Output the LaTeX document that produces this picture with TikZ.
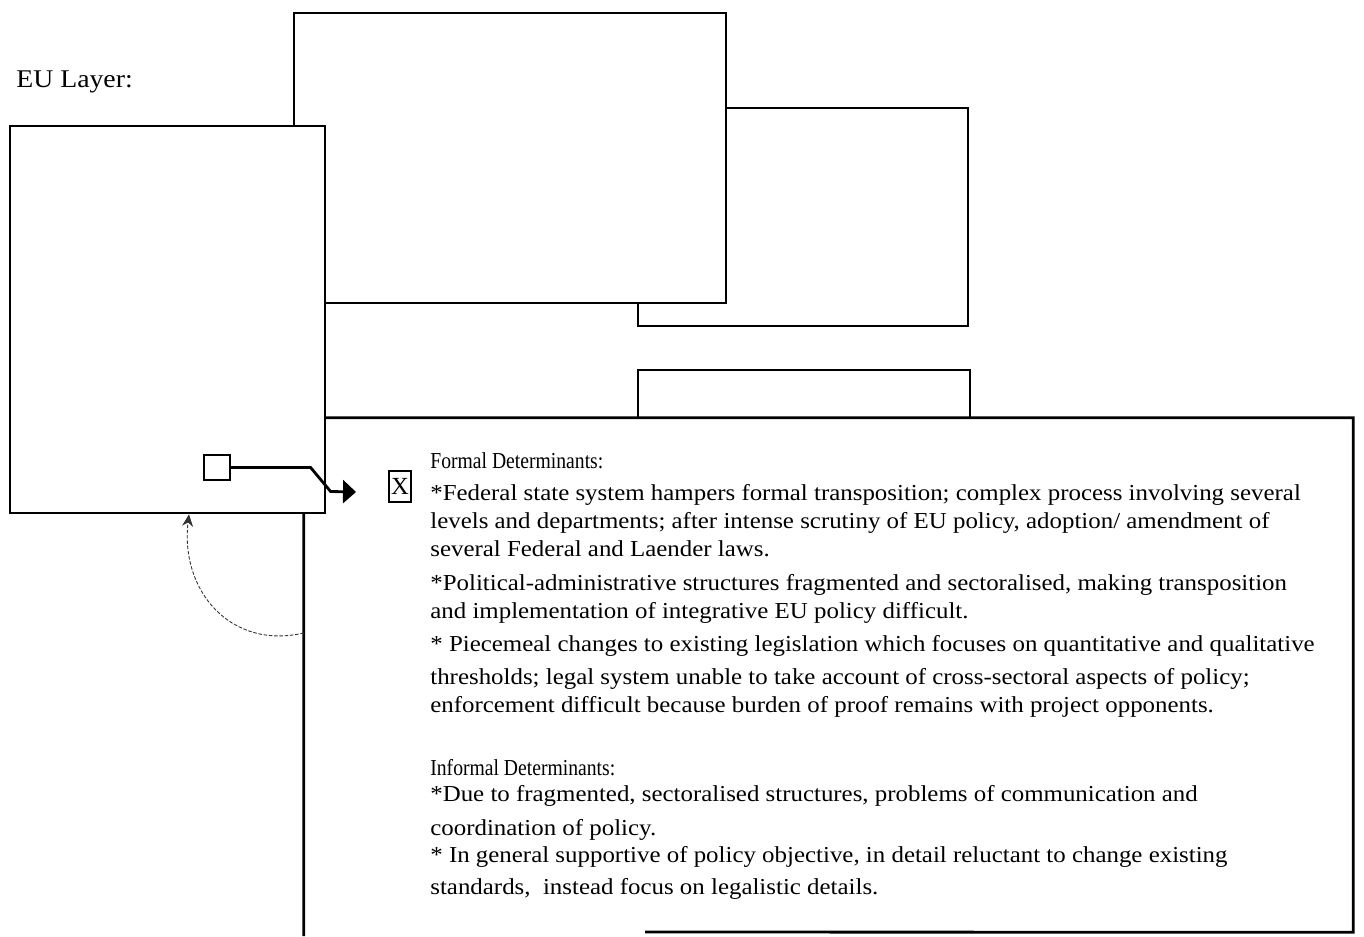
\documentclass[tikz,border=0pt]{standalone}
\usepackage{fontspec}
\setmainfont{Liberation Serif}
\newfontfamily\widefont{Liberation Serif}[FakeStretch=1.09]
\newfontfamily\narrowfont{Liberation Serif}[FakeStretch=0.86]
\usetikzlibrary{arrows.meta}

\tikzset{
  layerbox/.style={draw=black, fill=white, line width=1.6pt, shape=rectangle, inner sep=0pt},
  smallbox/.style={draw=black, fill=white, line width=0.7pt, shape=rectangle, inner sep=0pt},
  detline/.style={anchor=base west, inner sep=0pt, font=\widefont\fontsize{13}{15}\selectfont},
  dethead/.style={anchor=base west, inner sep=0pt, font=\narrowfont\fontsize{13}{15}\selectfont},
  linkarrow/.style={line width=1.6pt, -{Triangle[length=0.26cm, width=0.46cm]}},
  backarrow/.style={line width=0.5pt, dash pattern=on 2pt off 1pt, black!80, -{Stealth[length=0.24cm, width=0.22cm]}},
}

\begin{document}
\begin{tikzpicture}[x=0.02cm, y=-0.02cm]
\useasboundingbox (0,0) rectangle (1364,936);

\node[anchor=base west, inner sep=0pt, font=\widefont\fontsize{14.5}{17}\selectfont] (eu_label) at (16,88) {EU Layer:};

% layer boxes, back to front
\node[layerbox, minimum width=6.6cm, minimum height=4.36cm] (box_c) at (803,217) {};
\node[layerbox, minimum width=8.64cm, minimum height=5.8cm] (box_b) at (510,158) {};
\node[layerbox, minimum width=6.64cm, minimum height=1.8cm] (box_d) at (804,415) {};
\node[fill=white, shape=rectangle, inner sep=0pt, minimum width=20.98cm, minimum height=10.28cm] (box_e) at (828.5,675) {};
\draw[line width=1.6pt] (645,932) -- (box_e.south east) -- (box_e.north east) -- (box_e.north west) -- (box_e.west |- 0,936);
\node[layerbox, minimum width=6.3cm, minimum height=7.74cm] (box_a) at (167.5,319.5) {};

\node[smallbox, minimum width=0.52cm, minimum height=0.5cm] (sq_a) at (217,467.5) {};
\node[smallbox, minimum width=0.44cm, minimum height=0.62cm, font=\fontsize{14}{16}\selectfont] (x_mark) at (400,486.5) {X};

\coordinate (link_end) at (356,492);
\draw[linkarrow] (sq_a.east) -- ++(80,0) -- ++(20,24) -- (link_end);

\draw[backarrow] (box_e.west |- 0,633) .. controls (230,650) and (180,590) .. (box_a.south -| 189,0);

% determinants text
\node[dethead] (f_head) at (430,468) {Formal Determinants:};
\node[detline] (f_1a) at (430,500) {*Federal state system hampers formal transposition; complex process involving several};
\node[detline] (f_1b) at (430,528) {levels and departments; after intense scrutiny of EU policy, adoption/ amendment of};
\node[detline] (f_1c) at (430,556) {several Federal and Laender laws.};
\node[detline] (f_2a) at (430,590) {*Political-administrative structures fragmented and sectoralised, making transposition};
\node[detline] (f_2b) at (430,618) {and implementation of integrative EU policy difficult.};
\node[detline] (f_3a) at (430,651) {* Piecemeal changes to existing legislation which focuses on quantitative and qualitative};
\node[detline] (f_3b) at (430,684) {thresholds; legal system unable to take account of cross-sectoral aspects of policy;};
\node[detline] (f_3c) at (430,712) {enforcement difficult because burden of proof remains with project opponents.};

\node[dethead] (i_head) at (430,775) {Informal Determinants:};
\node[detline] (i_1a) at (430,801) {*Due to fragmented, sectoralised structures, problems of communication and};
\node[detline] (i_1b) at (430,835) {coordination of policy.};
\node[detline] (i_2a) at (430,862) {* In general supportive of policy objective, in detail reluctant to change existing};
\node[detline] (i_2b) at (430,894) {standards,\ \ instead focus on legalistic details.};
\end{tikzpicture}
\end{document}
